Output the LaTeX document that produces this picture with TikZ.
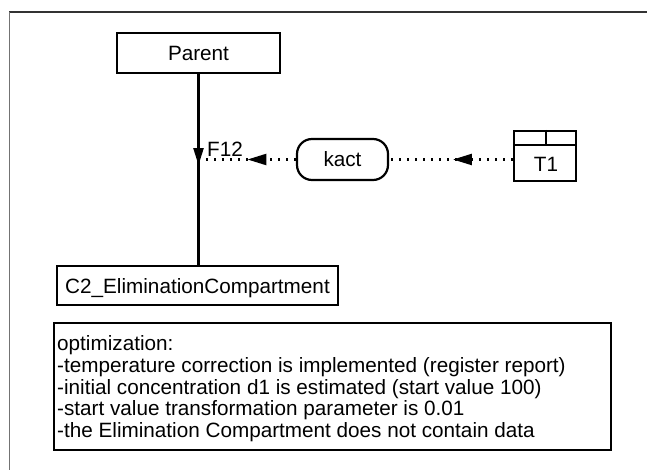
\documentclass[tikz,border=0pt]{standalone}
\usepackage{fontspec}
\setmainfont{Liberation Sans}
\usetikzlibrary{arrows.meta,decorations.markings}
\begin{document}
\begin{tikzpicture}[x=1pt,y=-1pt,
  every node/.style={font=\fontsize{20.7}{21.75}\selectfont},
  box/.style={draw=black,line width=2.2pt,inner sep=0pt,text depth=0pt},
  pill/.style={box,rounded corners=15pt},
  flowline/.style={line width=2.2pt,postaction={decorate,decoration={markings,
      mark=at position #1 with {\arrow{Triangle[length=17pt,width=10pt]}}}}},
  infolink/.style={line width=2.4pt,dash pattern=on 2.4pt off 5.6pt,
      postaction={decorate,decoration={markings,
      mark=at position #1 with {\arrow{Triangle[length=19pt,width=11pt]}}}}},
  notetext/.style={anchor=base west,inner sep=0pt},
  framel/.style={line width=1.4pt,black!80}]
\useasboundingbox (0,0) rectangle (647,470);
% scanned frame
\draw[framel] (9,12) -- (647,12);
\draw[line width=1pt,black!55] (9,12) -- (9,470);
% nodes
\node[box,minimum width=163pt,minimum height=40pt] (parent) at (198.5,53) {Parent};
\node[box,minimum width=281pt,minimum height=39pt] (c2) at (197.5,285.5) {C2\_EliminationCompartment};
\node[pill,minimum width=91pt,minimum height=41pt] (kact) at (342.5,159.5) {kact};
\node[box,minimum width=62pt,minimum height=50pt] (t1) at (545,156) {};
\draw[line width=2.2pt] ([yshift=-15pt]t1.north west) -- ([yshift=-15pt]t1.north east);
\draw[line width=2.2pt] ([xshift=1pt]t1.north) -- ([xshift=1pt,yshift=-15pt]t1.north);
\node (t1label) at (546,164) {T1};
% flow
\draw[flowline=0.477] (parent.south) -- (c2.north -| parent.south);
\coordinate (f12) at (198,159.5);
\node[notetext] (f12label) at (207,157) {F12};
% information links
\draw[infolink=0.484] (kact.east -| t1.west) -- (kact.east);
\draw[infolink=0.495] (kact.west) -- (f12);
% note
\node[box,minimum width=557pt,minimum height=127pt,anchor=north west] (note) at (53,322) {};
\node[notetext] (n1) at (57,350.5) {optimization:};
\node[notetext] (n2) at (57,372.25) {-temperature correction is implemented (register report)};
\node[notetext] (n3) at (57,394) {-initial concentration d1 is estimated (start value 100)};
\node[notetext] (n4) at (57,415.75) {-start value transformation parameter is 0.01};
\node[notetext] (n5) at (57,437.5) {-the Elimination Compartment does not contain data};
\end{tikzpicture}
\end{document}
